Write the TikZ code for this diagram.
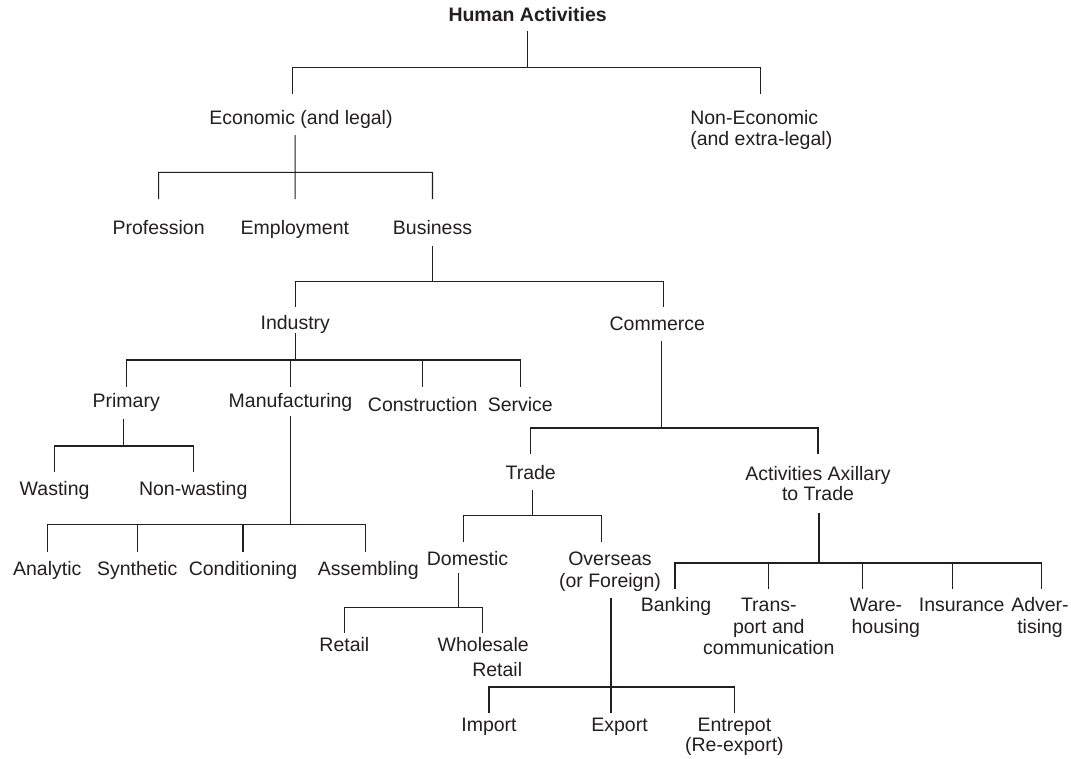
\documentclass[tikz,border=0pt]{standalone}
\usepackage{fontspec}
\setmainfont{Liberation Sans}
\definecolor{ink}{RGB}{35,31,32}
\begin{document}
\begin{tikzpicture}[x=1pt,y=1pt,
  lbl/.style={anchor=base,inner sep=0pt,text=ink,font=\fontsize{19.5}{21.5}\selectfont},
  link/.style={draw=ink,line width=1.1pt}]
\fill[white] (0,0) rectangle (1071,-758);
\useasboundingbox (0,0) rectangle (1071,-758);

% ---------- labels ----------
\node[lbl,font=\fontsize{19.5}{21.5}\selectfont\bfseries] (ha) at (527.6,-21.7) {Human Activities};
\node[lbl] (econ) at (301,-124.3) {Economic (and legal)};
\node[lbl,anchor=base west] (nonecon) at (690.1,-124.3)
  {\begin{tabular}[t]{@{}l@{}}Non-Economic\\(and extra-legal)\end{tabular}};

\node[lbl] (prof) at (158.6,-234.3) {Profession};
\node[lbl] (empl) at (294.9,-234.3) {Employment};
\node[lbl] (bus)  at (432.5,-234.3) {Business};

\node[lbl] (ind) at (295.3,-329) {Industry};
\node[lbl] (com) at (657.3,-330.7) {Commerce};

\node[lbl] (prim) at (126.2,-407.7) {Primary};
\node[lbl] (manu) at (290.5,-407.7) {Manufacturing};
\node[lbl] (cons) at (422.7,-411) {Construction};
\node[lbl] (serv) at (520.3,-411) {Service};

\node[lbl] (wast) at (54.6,-495) {Wasting};
\node[lbl] (nonw) at (193.2,-495) {Non-wasting};

\node[lbl] (trade) at (530.7,-479.5) {Trade};
\node[lbl] (aux) at (818,-480)
  {\begin{tabular}[t]{@{}c@{}}Activities Axillary\\[-0.8pt]to Trade\end{tabular}};

\node[lbl] (anal) at (47.2,-575) {Analytic};
\node[lbl] (synt) at (137.2,-575) {Synthetic};
\node[lbl] (cond) at (243,-575) {Conditioning};
\node[lbl] (asse) at (368.3,-575) {Assembling};

\node[lbl] (dom)  at (467.5,-565) {Domestic};
\node[lbl] (over) at (610,-565)
  {\begin{tabular}[t]{@{}c@{}}Overseas\\[0.8pt](or Foreign)\end{tabular}};

\node[lbl] (ret)  at (344.4,-651.7) {Retail};
\node[lbl] (whol) at (483.2,-651.7)
  {\begin{tabular}[t]{@{}c@{}}Wholesale\\[2.8pt]\hspace*{28pt}Retail\end{tabular}};

\node[lbl] (imp)  at (489,-731) {Import};
\node[lbl] (exp)  at (619.5,-731) {Export};
\node[lbl] (entr) at (734.4,-731)
  {\begin{tabular}[t]{@{}c@{}}Entrepot\\[-0.8pt](Re-export)\end{tabular}};

\node[lbl] (bank)  at (676,-611.7) {Banking};
\node[lbl] (trans) at (768.8,-611.7)
  {\begin{tabular}[t]{@{}c@{}}Trans-\\port and\\communication\end{tabular}};
\node[lbl] (ware)  at (876,-611.7)
  {\begin{tabular}[t]{@{}c@{}}Ware-\\\hspace*{19.6pt}housing\end{tabular}};
\node[lbl] (ins)   at (961.7,-611.7) {Insurance};
\node[lbl] (adv)   at (1040,-611.7)
  {\begin{tabular}[t]{@{}c@{}}Adver-\\tising\end{tabular}};

% ---------- connectors: one path per family (stem, bar, drops) ----------
% Human Activities
\coordinate (ha-j) at ([yshift=-46pt]ha.base);
\draw[link] ([yshift=-9.3pt]ha.base) -- (ha-j)
  (ha-j) -| ([xshift=-8.3pt,yshift=30pt]econ.base)
  (ha-j) -| ([xshift=70.6pt,yshift=30pt]nonecon.base west);

% Economic
\coordinate (econ-j) at ([xshift=-5.9pt,yshift=-48pt]econ.base);
\draw[link] ([xshift=-5.9pt,yshift=-10.7pt]econ.base) -- (econ-j)
  (econ-j) -| ([yshift=35.3pt]prof.base)
  (econ-j) -- ([xshift=0.2pt,yshift=35.3pt]empl.base)
  (econ-j) -| ([yshift=35.3pt]bus.base);

% Business
\coordinate (bus-j) at ([yshift=-47.4pt]bus.base);
\draw[link] ([yshift=-11.4pt]bus.base) -- (bus-j)
  (bus-j) -| ([yshift=21.7pt]ind.base)
  (bus-j) -| ([xshift=6pt,yshift=23.4pt]com.base);

% Industry
\coordinate (ind-j) at ([yshift=-31pt]ind.base);
\draw[link] ([yshift=-4.3pt]ind.base) -- (ind-j)
  (ind-j) -| ([yshift=21pt]prim.base)
  (ind-j) -| ([yshift=21pt]manu.base)
  (ind-j) -| ([yshift=24.3pt]cons.base)
  (ind-j) -| ([yshift=24.3pt]serv.base);

% Primary
\coordinate (prim-j) at ([xshift=-2.6pt,yshift=-38.3pt]prim.base);
\draw[link] ([xshift=-2.6pt,yshift=-11.6pt]prim.base) -- (prim-j)
  (prim-j) -| ([yshift=22.7pt]wast.base)
  (prim-j) -| ([yshift=22.7pt]nonw.base);

% Manufacturing
\coordinate (manu-j) at ([yshift=-117pt]manu.base);
\draw[link] ([yshift=-8pt]manu.base) -- (manu-j)
  (manu-j) -| ([yshift=23.3pt]anal.base)
  (manu-j) -| ([yshift=23.3pt]synt.base)
  (manu-j) -| ([yshift=23.3pt]cond.base)
  (manu-j) -| ([xshift=-2.6pt,yshift=23.3pt]asse.base);

% Commerce
\coordinate (com-j) at ([xshift=4.2pt,yshift=-97.3pt]com.base);
\draw[link] ([xshift=4.2pt,yshift=-10pt]com.base) -- (com-j)
  (com-j) -| ([yshift=25.5pt]trade.base)
  (com-j) -| ([yshift=26pt]aux.base);

% Trade
\coordinate (trade-j) at ([xshift=1.8pt,yshift=-36.2pt]trade.base);
\draw[link] ([xshift=1.8pt,yshift=-10.5pt]trade.base) -- (trade-j)
  (trade-j) -| ([xshift=-4.2pt,yshift=22.7pt]dom.base)
  (trade-j) -| ([xshift=-8.3pt,yshift=22.7pt]over.base);

% Domestic
\coordinate (dom-j) at ([xshift=-9.2pt,yshift=-42.3pt]dom.base);
\draw[link] ([xshift=-9.2pt,yshift=-8.3pt]dom.base) -- (dom-j)
  (dom-j) -| ([yshift=18.4pt]ret.base)
  (dom-j) -| ([xshift=-0.7pt,yshift=18.4pt]whol.base);

% Overseas
\coordinate (over-j) at ([xshift=1pt,yshift=-122pt]over.base);
\draw[link] ([xshift=1pt,yshift=-32.7pt]over.base) -- (over-j)
  (over-j) -| ([yshift=17.7pt]imp.base)
  (over-j) -- ([xshift=-8.5pt,yshift=17.7pt]exp.base)
  (over-j) -| ([yshift=17.7pt]entr.base);

% Activities auxiliary to trade
\coordinate (aux-j) at ([xshift=1pt,yshift=-83pt]aux.base);
\draw[link] ([xshift=1pt,yshift=-32.7pt]aux.base) -- (aux-j)
  (aux-j) -| ([xshift=-1pt,yshift=22.4pt]bank.base)
  (aux-j) -| ([xshift=-0.5pt,yshift=22.4pt]trans.base)
  (aux-j) -| ([xshift=-13.7pt,yshift=22.4pt]ware.base)
  (aux-j) -| ([xshift=-9pt,yshift=22.4pt]ins.base)
  (aux-j) -| ([xshift=1.7pt,yshift=22.4pt]adv.base);
\end{tikzpicture}
\end{document}
